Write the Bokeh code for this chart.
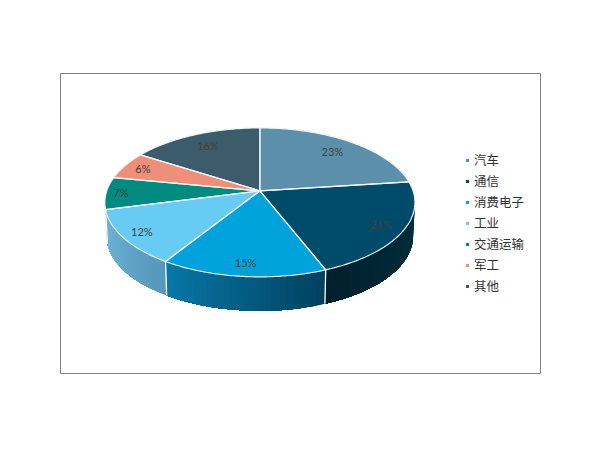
import numpy as np
from bokeh.core.properties import value
from bokeh.embed import file_html
from bokeh.models import ColumnDataSource, Legend, LegendItem, Range1d
from bokeh.plotting import figure
from bokeh.resources import INLINE

categories = ["汽车", "通信", "消费电子", "工业", "交通运输", "军工", "其他"]
shares = [23, 21, 15, 12, 7, 6, 16]
top_colors = ["#5c8fa9", "#004b69", "#00a2dc", "#67cbf4", "#008a80", "#ef8f79", "#3c5b6b"]
wall_left = ["#5c8fa9", "#00202c", "#0879a8", "#70b5da", "#008a80", "#ef8f79", "#3c5b6b"]
wall_right = ["#5c8fa9", "#00303f", "#00405e", "#5697bb", "#008a80", "#ef8f79", "#3c5b6b"]
label_radius = [0.78, 0.856, 0.863, 0.877, 0.904, 0.861, 0.78]

CX, CY, A, B, K = 259.4, 190.4, 153.2, 72.7, 0.154
DEPTH, BASE_SCALE = 34.0, 0.988


def project(theta, r=1.0, dy=0.0, scale=1.0):
    """Map a point of the flat pie (angle from the top, clockwise) onto the tilted view."""
    s, c = np.sin(theta), np.cos(theta)
    w = 1 + K * r * c
    return CX + scale * A * r * s / w, CY + dy - B * r * c / w


def lerp_hex(a, b, t):
    ca = [int(a[i:i + 2], 16) for i in (1, 3, 5)]
    cb = [int(b[i:i + 2], 16) for i in (1, 3, 5)]
    return "#%02x%02x%02x" % tuple(round(x + (y - x) * t) for x, y in zip(ca, cb))


edges = np.radians(np.concatenate([[0], np.cumsum(shares)]) * 3.6)
sil_r = np.arccos(-K)
sil_l = 2 * np.pi - sil_r

p = figure(
    width=592, height=442, x_range=Range1d(60, 540), y_range=Range1d(373, 73),
    x_axis_type=None, y_axis_type=None, toolbar_location=None, output_backend="svg",
    min_border_left=60, min_border_right=52, min_border_top=73, min_border_bottom=69,
    outline_line_color="#808080", outline_line_width=1, background_fill_color="white",
)
p.grid.visible = False

# Side wall: overlapping strips painted in turn build up each slice's gradient
for i in range(len(shares)):
    lo, hi = max(edges[i], sil_r), min(edges[i + 1], sil_l)
    if hi <= lo:
        continue
    n = max(2, int(np.degrees(hi - lo) / 1.5))
    th = np.linspace(lo, hi, n + 1)
    for j in range(n):
        arc = np.linspace(th[j], hi, max(2, (n - j) + 1))
        x1, y1 = project(arc)
        x2, y2 = project(arc[::-1], dy=DEPTH, scale=BASE_SCALE)
        col = lerp_hex(wall_right[i], wall_left[i], (j + 0.5) / n)
        p.patch(np.r_[x1, x2], np.r_[y1, y2], fill_color=col, line_color=None)

# White seams on the wall
seam_th = [e for e in edges[1:-1] if sil_r < e < sil_l]
sx = [[project(t)[0], project(t, dy=DEPTH, scale=BASE_SCALE)[0]] for t in seam_th]
sy = [[project(t)[1], project(t, dy=DEPTH, scale=BASE_SCALE)[1]] for t in seam_th]
p.multi_line(sx, sy, line_color="white", line_width=1.3)

# Top faces
items = []
for i, name in enumerate(categories):
    th = np.linspace(edges[i], edges[i + 1], 80)
    x, y = project(th)
    r = p.patch(np.r_[CX, x], np.r_[CY, y], fill_color=top_colors[i], line_color=None)
    items.append(LegendItem(label=name, renderers=[r]))

# White outlines of the slices
ox, oy = [], []
for i in range(len(shares)):
    th = np.linspace(edges[i], edges[i + 1], 80)
    x, y = project(th)
    ox.append(np.r_[CX, x, CX])
    oy.append(np.r_[CY, y, CY])
p.multi_line(ox, oy, line_color="#eef4f7", line_width=1.2)

# Percentage labels
mid = (edges[:-1] + edges[1:]) / 2
lx, ly = project(mid, r=np.array(label_radius))
src = ColumnDataSource(dict(x=lx, y=ly, t=["%d%%" % v for v in shares]))
p.text("x", "y", text="t", source=src, text_align="center", text_baseline="middle",
       text_font=value("Lato"), text_font_size="11px", text_color="#404040")

legend = Legend(
    items=items, location=(405, 78), orientation="vertical",
    glyph_width=4, glyph_height=4, label_standoff=5, padding=0, margin=0,
    spacing=2, label_height=16, background_fill_alpha=0, border_line_color=None,
    label_text_font="Noto Sans CJK SC", label_text_font_size="12.5px", label_text_color="#333333",
)
p.add_layout(legend, "center")

open("out.html", "w").write(file_html(p, INLINE))
